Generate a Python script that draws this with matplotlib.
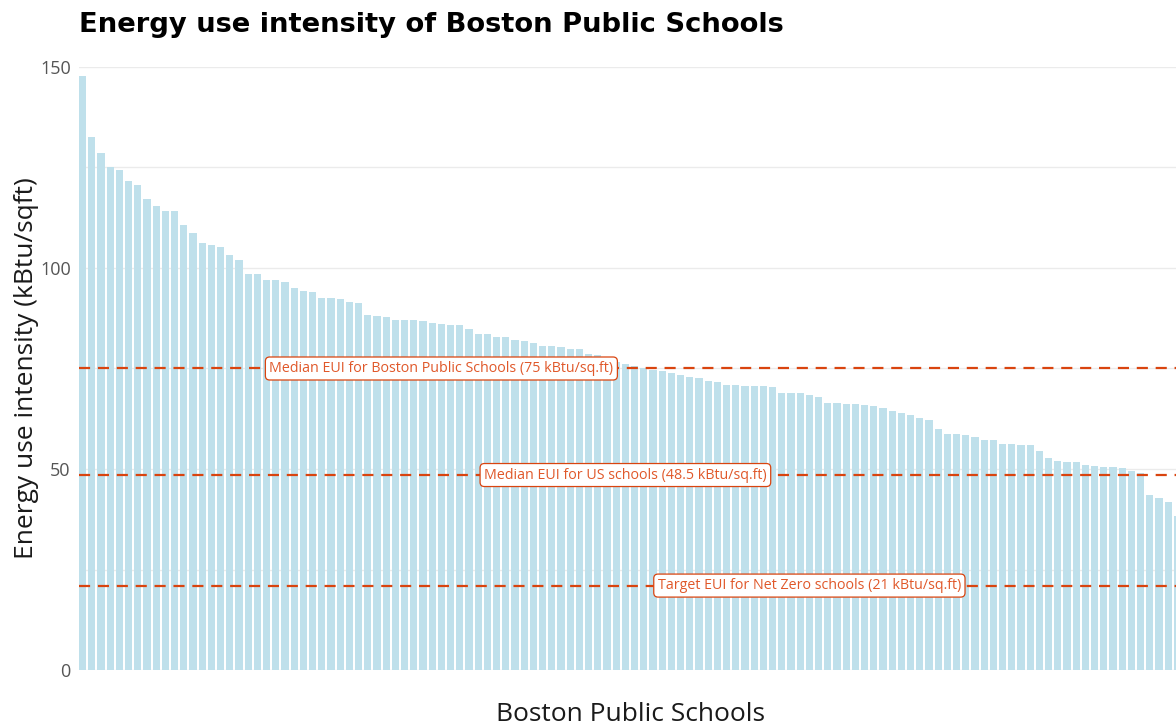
"""Energy use intensity of Boston Public Schools — bar chart with reference lines."""
import matplotlib
matplotlib.use("Agg")
import matplotlib.pyplot as plt
import numpy as np

plt.rcParams["font.family"] = ["Open Sans", "DejaVu Sans"]

# EUI per school (kBtu/sqft), sorted descending
eui = [
    147.8, 132.5, 128.6, 125.2, 124.4, 121.6, 120.6, 117.1, 115.3, 114.1,
    114.1, 110.7, 108.7, 106.2, 105.7, 105.1, 103.2, 102.1, 98.4, 98.4,
    96.9, 96.9, 96.4, 95.0, 94.4, 94.0, 92.5, 92.5, 92.3, 91.5,
    91.2, 88.3, 88.1, 87.8, 87.1, 87.1, 87.1, 86.7, 86.4, 86.0,
    85.7, 85.7, 84.8, 83.5, 83.5, 82.8, 82.8, 82.2, 81.9, 81.4,
    80.6, 80.6, 80.3, 79.9, 79.9, 78.7, 78.4, 77.2, 76.5, 76.0,
    75.6, 75.0, 74.6, 74.4, 74.0, 73.5, 72.8, 72.6, 71.9, 71.6,
    70.8, 70.8, 70.6, 70.6, 70.6, 70.3, 69.0, 69.0, 68.8, 68.5,
    68.0, 66.5, 66.5, 66.2, 66.2, 66.0, 65.6, 65.1, 64.4, 63.9,
    63.4, 62.8, 62.2, 60.0, 58.7, 58.7, 58.5, 58.0, 57.1, 57.1,
    56.2, 56.2, 56.0, 56.0, 54.4, 52.8, 51.9, 51.7, 51.7, 51.0,
    50.7, 50.5, 50.5, 50.2, 49.5, 48.9, 43.5, 42.9, 41.7, 38.3,
]
schools = list(range(len(eui)))

ref_values = [75, 48.5, 21]
ref_labels = [
    "Median EUI for Boston Public Schools (75 kBtu/sq.ft)",
    "Median EUI for US schools (48.5 kBtu/sq.ft)",
    "Target EUI for Net Zero schools (21 kBtu/sq.ft)",
]
ref_label_x = [39, 59, 79]

BAR_COLOR = "#bfe0eb"
LINE_COLOR = "#d9440f"
TEXT_COLOR = "#e0582a"

fig = plt.figure(figsize=(11.76, 7.25), dpi=100)
# axes deliberately runs a little past the right edge, like the reference
ax = fig.add_axes([79 / 1176, 55 / 725, 1104 / 1176, 603 / 725])

ax.bar(schools, eui, width=0.78, color=BAR_COLOR, zorder=2)

for val, lab, lx in zip(ref_values, ref_labels, ref_label_x):
    ax.axhline(val, color=LINE_COLOR, linewidth=1.6, linestyle=(0, (5, 3.5)), zorder=3)
    ax.text(
        lx, val, lab, ha="center", va="center", fontsize=10.3, color=TEXT_COLOR, zorder=4,
        bbox=dict(boxstyle="round,pad=0.28,rounding_size=0.3", fc="white",
                  ec=LINE_COLOR, lw=0.9),
    )

ax.set_xlim(-0.39, len(eui) - 0.39)
ax.set_ylim(0, 150)
ax.set_xticks([])
ax.set_yticks([0, 50, 100, 150])
ax.set_yticks([25, 75, 125], minor=True)
ax.tick_params(axis="y", which="both", length=0, pad=6, labelsize=13, labelcolor="#555555")
ax.grid(axis="y", which="both", color="#ebebeb", linewidth=1, zorder=0)
ax.set_axisbelow(True)
for s in ax.spines.values():
    s.set_visible(False)

ax.set_ylabel("Energy use intensity (kBtu/sqft)", fontsize=19, color="#1a1a1a", labelpad=1)
ax.set_xlabel("Boston Public Schools", fontsize=19, color="#1a1a1a", labelpad=23)

fig.text(79 / 1176, 1 - 25 / 725, "Energy use intensity of Boston Public Schools",
         fontsize=19.7, fontweight="bold", color="black", ha="left", va="center",
         family="DejaVu Sans")

fig.savefig("out.png", dpi=100)
